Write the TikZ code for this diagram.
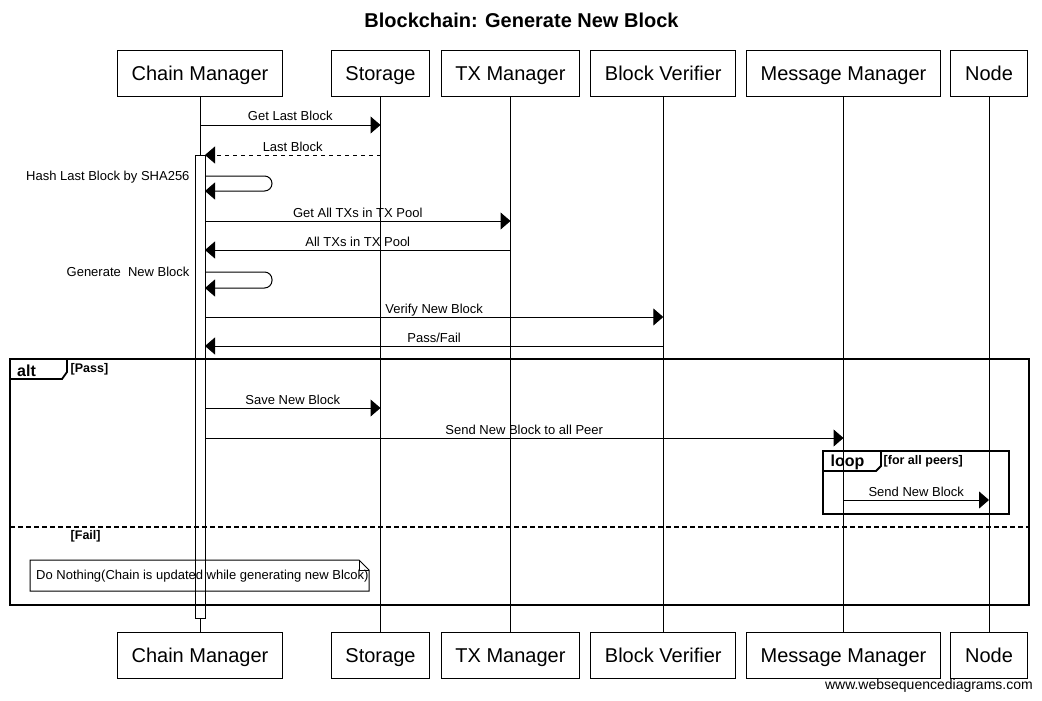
\documentclass[tikz,border=0pt]{standalone}
\usepackage{fontspec}
\setmainfont{Liberation Sans}
\usetikzlibrary{shapes,arrows.meta,positioning,calc}
\newcommand{\bcTitleFont}{\bfseries\fontsize{20}{24}\selectfont}
\newcommand{\bcBoxFont}{\fontsize{20}{24}\selectfont}
\newcommand{\bcMsgFont}{\fontsize{13}{15}\selectfont}
\newcommand{\bcTagFont}{\bfseries\fontsize{16}{18}\selectfont}
\newcommand{\bcCondFont}{\bfseries\fontsize{12.5}{14}\selectfont}
\newcommand{\bcFootFont}{\fontsize{14}{16}\selectfont}

\begin{document}
\begin{tikzpicture}[x=1pt,y=-1pt,
  actor/.style={rectangle,draw,line width=1pt,minimum height=46pt,inner xsep=14.3pt,inner ysep=0pt,text height=18pt,text depth=4pt,font=\bcBoxFont},
  lifeline/.style={line width=1pt},
  msg/.style={line width=1pt,-{Triangle[length=10pt,width=17pt]}},
  reply/.style={msg,dash pattern=on 4pt off 4pt},
  msglabel/.style={midway,anchor=base,yshift=4pt,font=\bcMsgFont,inner sep=0pt},
  selflabel/.style={anchor=base east,xshift=-15pt,yshift=-4.5pt,font=\bcMsgFont,inner sep=0pt},
  frame/.style={line width=1.8pt},
  tag/.style={anchor=base west,font=\bcTagFont,inner sep=0pt},
  cond/.style={anchor=base west,font=\bcCondFont,inner sep=0pt}]
  \fill[white] (0,0) rectangle (1042,701);
  \useasboundingbox (0,0) rectangle (1042,701);

  % Title
  \node[font=\bcTitleFont,anchor=base,inner sep=0pt] (title) at (521.5,27.5) {Blockchain: Generate New Block};

  % Participants
  \node[actor] (cmT) at (200,74) {Chain Manager};
  \node[actor] (stT) at (380.5,74) {Storage};
  \node[actor] (txT) at (510.5,74) {TX Manager};
  \node[actor] (bvT) at (663.3,74) {Block Verifier};
  \node[actor] (mmT) at (843.5,74) {Message Manager};
  \node[actor] (ndT) at (989,74) {Node};
  \node[actor,below=534pt of cmT] (cmB) {Chain Manager};
  \node[actor,below=534pt of stT] (stB) {Storage};
  \node[actor,below=534pt of txT] (txB) {TX Manager};
  \node[actor,below=534pt of bvT] (bvB) {Block Verifier};
  \node[actor,below=534pt of mmT] (mmB) {Message Manager};
  \node[actor,below=534pt of ndT] (ndB) {Node};

  % Lifelines
  \draw[lifeline] (cmT.south) -- (cmB.north);
  \draw[lifeline] (stT.south) -- (stB.north);
  \draw[lifeline] (txT.south) -- (txB.north);
  \draw[lifeline] (bvT.south) -- (bvB.north);
  \draw[lifeline] (mmT.south) -- (mmB.north);
  \draw[lifeline] (ndT.south) -- (ndB.north);
  \node[rectangle,draw,fill=white,line width=1pt,minimum width=10pt,minimum height=463pt,inner sep=0pt,outer sep=0pt] (act) at (200,386.5) {};

  % Messages
  \draw[msg] (cmT |- 0,125) -- (stT |- 0,125) node[msglabel] {Get Last Block};
  \draw[reply] (stT |- 0,155) -- (act.east |- 0,155) node[msglabel] {Last Block};
  \draw[msg,rounded corners=7.5pt] (act.east |- 0,176) node[selflabel] {Hash Last Block by SHA256} -- (272,176) -- (272,191) -- (act.east |- 0,191);
  \draw[msg] (act.east |- 0,221) -- (txT |- 0,221) node[msglabel] {Get All TXs in TX Pool};
  \draw[msg] (txT |- 0,250) -- (act.east |- 0,250) node[msglabel] {All TXs in TX Pool};
  \draw[msg,rounded corners=7.5pt] (act.east |- 0,272) node[selflabel] {Generate\ \ New Block} -- (272,272) -- (272,288) -- (act.east |- 0,288);
  \draw[msg] (act.east |- 0,317) -- (bvT |- 0,317) node[msglabel] {Verify New Block};
  \draw[msg] (bvT |- 0,346) -- (act.east |- 0,346) node[msglabel] {Pass/Fail};

  % alt frame
  \draw[frame] (10,359) rectangle (1029,605);
  \draw[frame] (10,379) -- (62,379) -- (67,372) -- (67,359);
  \node[tag] (altTag) at (17,376) {alt};
  \node[cond] (passCond) at (70.5,372) {[Pass]};
  \draw[msg] (act.east |- 0,408) -- (stT |- 0,408) node[msglabel] {Save New Block};
  \draw[msg] (act.east |- 0,438) -- (mmT |- 0,438) node[msglabel] {Send New Block to all Peer};

  % loop frame
  \draw[frame] (823,451) rectangle (1009,514);
  \draw[frame] (823,471) -- (876,471) -- (881,466) -- (881,451);
  \node[tag] (loopTag) at (830.5,466) {loop};
  \node[cond] (peersCond) at (883.5,464.5) {[for all peers]};
  \draw[msg] (mmT |- 0,500) -- (ndT |- 0,500) node[msglabel] {Send New Block};

  \draw[frame,dash pattern=on 5pt off 3pt] (10,527) -- (1029,527);
  \node[cond] (failCond) at (70.5,539) {[Fail]};

  % Note
  \draw[line width=1pt] (30,560) -- (359,560) -- (369,570) -- (369,591) -- (30,591) -- cycle;
  \draw[line width=1pt] (359,560) -- (359,570) -- (369,570);
  \node[anchor=base west,font=\bcMsgFont,inner sep=0pt] (noteText) at (36,579.5) {Do Nothing(Chain is updated while generating new Blcok)};

  \node[font=\bcFootFont,anchor=base east,inner sep=0pt] (footer) at (1033,689) {www.websequencediagrams.com};
\end{tikzpicture}
\end{document}
